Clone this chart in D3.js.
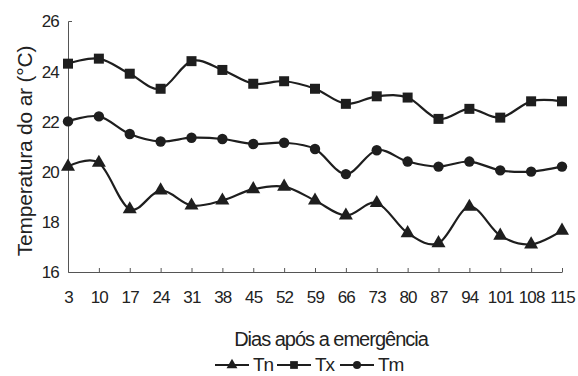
<!DOCTYPE html>
<html><head><meta charset="utf-8">
<script src="https://cdn.jsdelivr.net/npm/d3@7"></script>
<style>
body{margin:0;background:#fff;}
text{font-family:"Liberation Sans",Arial,sans-serif;fill:#222;}
</style></head>
<body><svg id="c" width="578" height="376"></svg>
<script>
const days = [3,10,17,24,31,38,45,52,59,66,73,80,87,94,101,108,115];
const tx = [24.3,24.5,23.9,23.3,24.4,24.05,23.5,23.6,23.3,22.7,23.0,22.95,22.1,22.5,22.15,22.8,22.8];
const tm = [22.0,22.2,21.5,21.2,21.35,21.3,21.1,21.15,20.9,19.9,20.85,20.4,20.2,20.4,20.05,20.0,20.2];
const tn = [20.2,20.35,18.5,19.25,18.65,18.85,19.3,19.4,18.85,18.25,18.75,17.55,17.15,18.6,17.45,17.1,17.65];
const yTicks = [16,18,20,22,24,26];
const seriesNames = ["Tn","Tx","Tm"];

const svg = d3.select("#c");
const x = d3.scalePoint().domain(days).range([68,562]);
const y = d3.scaleLinear().domain([16,26]).range([272,21]);
const col = "#1e1e1e";

// axes
const gx = svg.append("g").attr("transform","translate(0,272)")
  .call(d3.axisBottom(x).tickSizeInner(-4).tickSizeOuter(0).tickPadding(19));
const gy = svg.append("g").attr("transform","translate(68,0)")
  .call(d3.axisLeft(y).tickValues(yTicks).tickSizeInner(0).tickSizeOuter(-4).tickPadding(9));
[gx,gy].forEach(g=>{
  g.selectAll("path,line").attr("stroke","#555").attr("stroke-width",1);
  g.selectAll("text").attr("font-size",17).attr("letter-spacing","-0.8px").attr("fill","#222")
   .attr("font-family","Liberation Sans, Arial, sans-serif");
});
gy.selectAll("text").attr("dy","0.35em");

// titles
svg.append("text").attr("transform","translate(32,151) rotate(-90)")
  .attr("text-anchor","middle").attr("font-size",21).attr("letter-spacing","-0.2px")
  .text("Temperatura do ar (°C)");
svg.append("text").attr("x",331).attr("y",346).attr("text-anchor","middle")
  .attr("font-size",20).attr("letter-spacing","-1px").text("Dias após a emergência");

const line = d3.line().x((d,i)=>x(days[i])).y(d=>y(d)).curve(d3.curveCardinal.tension(0));
const sets = [
  {name:"Tn", vals:tn, sym:d3.symbolTriangle, size:85},
  {name:"Tx", vals:tx, sym:d3.symbolSquare, size:100},
  {name:"Tm", vals:tm, sym:d3.symbolCircle, size:85}
];
sets.forEach(s=>{
  svg.append("path").attr("d",line(s.vals)).attr("fill","none").attr("stroke",col).attr("stroke-width",2.2);
  svg.append("g").selectAll("path").data(s.vals).join("path")
    .attr("transform",(d,i)=>`translate(${x(days[i])},${y(d)})`)
    .attr("d",d3.symbol().type(s.sym).size(s.size)).attr("fill",col);
});

// legend
const leg = [{lx:215,tx:253},{lx:277,tx:315},{lx:340,tx:378}];
sets.forEach((s,i)=>{
  const g = svg.append("g").attr("transform",`translate(${leg[i].lx},365)`);
  g.append("line").attr("x1",0).attr("x2",34).attr("stroke",col).attr("stroke-width",2.2);
  g.append("path").attr("transform","translate(17,0)").attr("d",d3.symbol().type(s.sym).size(s.size*0.6)).attr("fill",col);
  svg.append("text").attr("x",leg[i].tx).attr("y",371).attr("font-size",19).attr("letter-spacing","-1.1px").text(seriesNames[i]);
});
</script></body></html>
